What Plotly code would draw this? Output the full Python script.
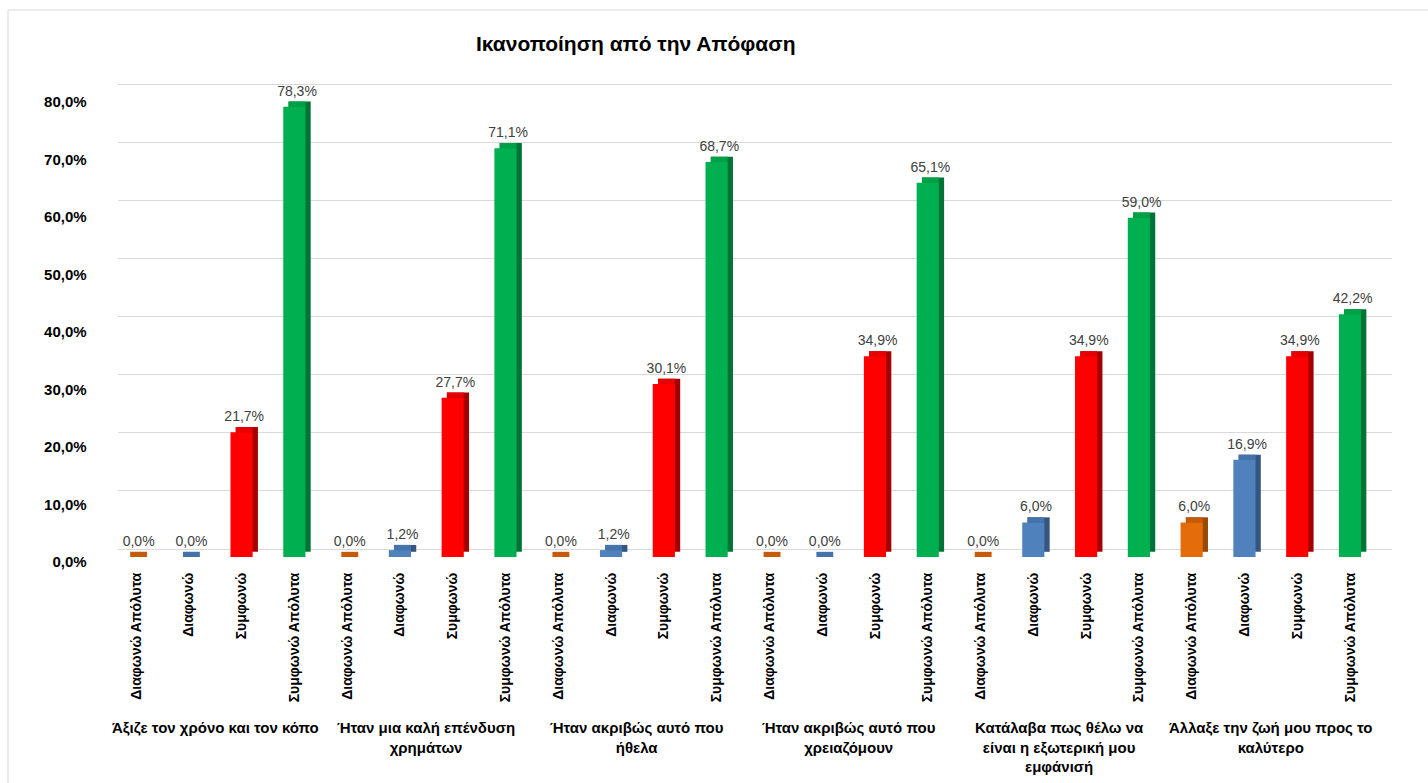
import plotly.graph_objects as go

# Survey: satisfaction with the decision, share of answers per statement (%)
title = "Ικανοποίηση από την Απόφαση"
answers = ["Διαφωνώ Απόλυτα", "Διαφωνώ", "Συμφωνώ", "Συμφωνώ Απόλυτα"]
statements = [
    "Άξιζε τον χρόνο και τον κόπο",
    "Ήταν μια καλή επένδυση<br>χρημάτων",
    "Ήταν ακριβώς αυτό που<br>ήθελα",
    "Ήταν ακριβώς αυτό που<br>χρειαζόμουν",
    "Κατάλαβα πως θέλω να<br>είναι η εξωτερική μου<br>εμφάνισή",
    "Άλλαξε την ζωή μου προς το<br>καλύτερο",
]
disagree_abs = [0.0, 0.0, 0.0, 0.0, 0.0, 6.0]
disagree = [0.0, 1.2, 1.2, 0.0, 6.0, 16.9]
agree = [21.7, 27.7, 30.1, 34.9, 34.9, 34.9]
agree_abs = [78.3, 71.1, 68.7, 65.1, 59.0, 42.2]
y_ticks = [0, 10, 20, 30, 40, 50, 60, 70, 80]

front_colors = ["#E46C0A", "#4F81BD", "#FF0000", "#00B050"]
top_colors = ["#C55A08", "#4473AB", "#E60000", "#00A047"]
side_colors = ["#9A4A07", "#35577F", "#A50000", "#007436"]


def pct(v):
    return f"{v:.1f}".replace(".", ",") + "%"


# one bar per (statement, answer) pair, laid out left to right
series = [disagree_abs, disagree, agree, agree_abs]
vals, xs, fc, tc, sc, labels = [], [], [], [], [], []
for g in range(len(statements)):
    for k in range(len(answers)):
        v = series[k][g]
        vals.append(v)
        xs.append(g * len(answers) + k)
        fc.append(front_colors[k])
        tc.append(top_colors[k])
        sc.append(side_colors[k])
        labels.append(pct(v))

W, H = 1428, 783
bar_w = 0.42      # front face width (category units)
dx = 0.10         # depth offset to the right
dy = 0.9          # depth offset upwards (value units)


def px(x):
    return x / W


def py(y):
    return (H - y) / H


fig = go.Figure()

# invisible trace so the back-wall grid subplot is created
fig.add_trace(go.Scatter(x=[0], y=[0], mode="markers", marker=dict(opacity=0),
                         hoverinfo="skip", showlegend=False, xaxis="x", yaxis="y"))

# side face
fig.add_trace(go.Bar(x=xs, y=vals, base=dy, offset=-bar_w / 2 + dx, width=bar_w,
                     marker=dict(color=sc, line=dict(width=0)),
                     hoverinfo="skip", showlegend=False, xaxis="x2", yaxis="y2"))
# top face (carries the value labels)
fig.add_trace(go.Bar(x=xs, y=[dy] * len(vals), base=vals, offset=-bar_w / 2 + dx,
                     width=bar_w - dx,
                     marker=dict(color=tc, line=dict(width=0)),
                     text=labels, textposition="outside", constraintext="none",
                     cliponaxis=False,
                     textfont=dict(family="Liberation Sans", size=14, color="#404040"),
                     hoverinfo="skip", showlegend=False, xaxis="x2", yaxis="y2"))
# front face
fig.add_trace(go.Bar(x=xs, y=vals, offset=-bar_w / 2, width=bar_w,
                     marker=dict(color=fc, line=dict(width=0)),
                     customdata=labels, hovertemplate="%{customdata}<extra></extra>",
                     showlegend=False, xaxis="x2", yaxis="y2"))

plot_top, plot_bottom = 68.25, 557.0
n = len(vals)

annotations = [dict(text=f"<b>{title}</b>", x=px(635), y=py(44), xref="paper", yref="paper",
                    xanchor="center", yanchor="middle", showarrow=False,
                    font=dict(family="Liberation Sans", size=21, color="#000000"))]
for g, s in enumerate(statements):
    annotations.append(dict(text=f"<b>{s}</b>", x=g * len(answers) + 1.5, xref="x2",
                            y=py(717), yref="paper", xanchor="center", yanchor="top",
                            showarrow=False, align="center",
                            font=dict(family="Liberation Sans", size=15, color="#000000")))

fig.update_layout(
    width=W, height=H,
    margin=dict(l=0, r=0, t=0, b=0, autoexpand=False),
    paper_bgcolor="white", plot_bgcolor="rgba(0,0,0,0)",
    barmode="overlay",
    annotations=annotations,
    shapes=[dict(type="rect", xref="paper", yref="paper", x0=px(8), x1=px(1460),
                 y0=py(10), y1=py(800), line=dict(color="#D9D9D9", width=1),
                 fillcolor="rgba(0,0,0,0)", layer="below")],
    # back wall grid, shifted up and right
    xaxis=dict(domain=[px(118), px(1392)], range=[0, 1], visible=False, fixedrange=True,
               automargin=False),
    yaxis=dict(domain=[py(plot_bottom), py(plot_top)], range=[-8 / 5.8125, (549 - plot_top) / 5.8125],
               tickvals=y_ticks, showticklabels=False, showgrid=True,
               gridcolor="#D9D9D9", gridwidth=1, zeroline=False, showline=False,
               fixedrange=True, automargin=False),
    # bars
    xaxis2=dict(domain=[px(109.6), px(1376.4)], range=[-0.5, n - 0.5], anchor="y2",
                tickmode="array", tickvals=xs, ticktext=answers * len(statements),
                tickangle=-90, ticks="", showgrid=False, zeroline=False, showline=False,
                ticklabelstandoff=12, automargin=False,
                tickfont=dict(family="Liberation Sans", size=14, color="#000000", weight="bold"),
                fixedrange=True),
    yaxis2=dict(domain=[py(plot_bottom), py(plot_top)], range=[0, (plot_bottom - plot_top) / 5.75],
                anchor="x2", tickmode="array", tickvals=y_ticks,
                ticktext=[pct(t) for t in y_ticks],
                showgrid=False, zeroline=False, showline=False, ticks="",
                ticklabelstandoff=22, ticklabelshift=5, automargin=False,
                tickfont=dict(family="Liberation Sans", size=15, color="#000000", weight="bold"),
                fixedrange=True),
)

fig.write_html("out.html")
